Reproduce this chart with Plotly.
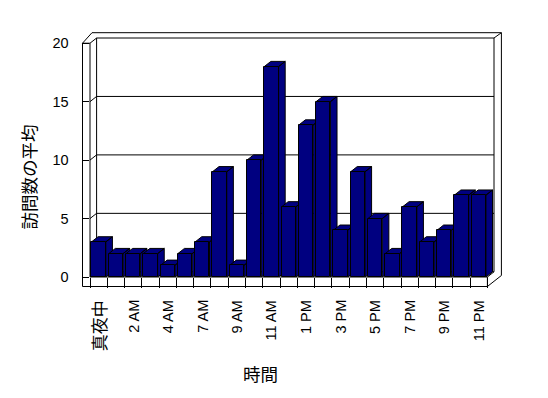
import plotly.graph_objects as go

# ---- data ----
categories = ["真夜中", "1 AM", "2 AM", "3 AM", "4 AM", "5 AM", "7 AM", "8 AM", "9 AM",
              "10 AM", "11 AM", "正午", "1 PM", "2 PM", "3 PM", "4 PM", "5 PM", "6 PM",
              "7 PM", "8 PM", "9 PM", "10 PM", "11 PM"]
visits = [3, 2, 2, 2, 1, 2, 3, 9, 1, 10, 18, 6, 13, 15, 4, 9, 5, 2, 6, 3, 4, 7, 7]
y_ticks = [0, 5, 10, 15, 20]
x_title = "時間"
y_title = "訪問数の平均"

# ---- geometry (pixels) ----
W, H = 548, 398
FX0, FX1 = 89.5, 487.0        # front category area
FY0, FY20 = 277.0, 43.5       # front y of 0 and 20
DXP, DYP = 6.6, 5.2           # depth offset in px
n = len(visits)
cw = (FX1 - FX0) / n
uy = (FY0 - FY20) / 20.0
XMAX = n - 0.5 + DXP / cw
YMAX = 20 + DYP / uy
PX0, PX1 = FX0, FX1 + DXP
PYB, PYT = FY0, FY20 - DYP
PW, PH = PX1 - PX0, PYB - PYT
dxu, dyu = DXP / cw, DYP / uy

def P(px, py):
    return (px - PX0) / PW, (PYB - py) / PH

NAVY = "#000080"
LINE = dict(color="black", width=1)
shapes = []

def seg(x0, y0, x1, y1):
    a = P(x0, y0); b = P(x1, y1)
    shapes.append(dict(type="line", xref="paper", yref="paper", x0=a[0], y0=a[1],
                       x1=b[0], y1=b[1], line=LINE, layer="below"))

# back wall gridlines with diagonals to the front ticks
for v in y_ticks:
    yf = FY0 - v * uy
    yb = yf - DYP
    seg(FX0, yf, FX0 + DXP, yb)
    seg(FX0 + DXP, yb, PX1, yb)
# back wall inner edges
seg(FX0 + DXP, PYT, FX0 + DXP, PYB - DYP)
seg(PX1, PYT, PX1, PYB - DYP)
# outer silhouette
OL, OT, OR, OB = 82.0, 33.0, 501.0, 286.5
seg(OL, FY20, OL, OB)
seg(OL, OB, FX1, OB)
seg(OL, FY20, OL + 9.5, OT)
seg(OL + 9.5, OT, OR, OT)
seg(OR, OT, OR, 275.5)
seg(FX1, OB, OR, 275.5)
seg(PX1, PYT, OR, OT)
# left wall front face
seg(OL, FY20, FX0, FY20)
seg(FX0, FY20, FX0, FY0)
# floor
seg(FX0, FY0, FX1, FY0)
seg(FX1, FY0, FX1, OB)
seg(FX1, FY0, PX1, FY0 - DYP)

fig = go.Figure()

# 3D top / side faces (drawn beneath front faces)
bw = 0.83
for i, v in enumerate(visits):
    l, r = i - bw / 2, i + bw / 2
    xs = [l, r, r + dxu, l + dxu, l, None, r, r + dxu, r + dxu, r, r]
    ys = [v, v, v + dyu, v + dyu, v, None, 0, dyu, v + dyu, v, 0]
    fig.add_trace(go.Scatter(x=xs, y=ys, mode="lines", fill="toself", fillcolor=NAVY,
                             line=LINE, hoverinfo="skip", showlegend=False,
                             xaxis="x", yaxis="y"))

# front faces
fig.add_trace(go.Bar(x=list(range(n)), y=visits, width=bw, marker=dict(color=NAVY, line=LINE),
                     showlegend=False, xaxis="x2", yaxis="y2", hovertext=categories))

FONT = "Liberation Sans, Arial, Noto Sans CJK JP"
TICKFONT = dict(family=FONT, size=14.5, color="black")

# category labels (every other category), top-aligned under the floor
label_top = P(0, 299)[1]
annotations = []
for i in range(0, n, 2):
    f = dict(TICKFONT)
    if i == 0:
        f = dict(family="Noto Sans CJK JP", size=17, color="black")
    annotations.append(dict(text=categories[i], textangle=-90, xref="x", yref="paper", x=i,
                            y=label_top, xanchor="center", yanchor="top",
                            showarrow=False, font=f, borderpad=0))

annotations += [
    dict(text=y_title, textangle=-90, xref="paper", yref="paper",
         x=P(28, 177)[0], y=P(28, 177)[1], xanchor="center", yanchor="middle",
         showarrow=False, font=dict(family="Noto Sans CJK JP", size=17.5, color="black")),
    dict(text=x_title, xref="paper", yref="paper",
         x=P(260, 373)[0], y=P(260, 373)[1], xanchor="center", yanchor="middle",
         showarrow=False, font=dict(family="Noto Sans CJK JP", size=17.5, color="black")),
]

fig.update_layout(
    width=W, height=H,
    margin=dict(l=PX0, r=W - PX1, t=PYT, b=H - PYB, pad=0),
    paper_bgcolor="white", plot_bgcolor="white",
    font=dict(family=FONT, size=14, color="black"),
    bargap=0,
    xaxis=dict(range=[-0.5, XMAX], tickmode="array", tickvals=list(range(0, n, 2)),
               showticklabels=False, ticks="", showgrid=False, zeroline=False,
               showline=False, fixedrange=True,
               minor=dict(tickvals=[i - 0.5 for i in range(n + 1)], ticks="outside",
                          ticklen=OB - FY0, tickcolor="black", tickwidth=1,
                          showgrid=False)),
    yaxis=dict(range=[0, YMAX], tickmode="array", tickvals=y_ticks, ticks="outside",
               ticklen=FX0 - OL, tickcolor="black", tickwidth=1, showgrid=False,
               zeroline=False, showline=False, ticklabelstandoff=10, fixedrange=True,
               tickfont=TICKFONT),
    xaxis2=dict(range=[-0.5, XMAX], overlaying="x", anchor="y2", visible=False),
    yaxis2=dict(range=[0, YMAX], overlaying="y", anchor="x2", visible=False),
    shapes=shapes,
    annotations=annotations,
)

fig.write_html("out.html")
